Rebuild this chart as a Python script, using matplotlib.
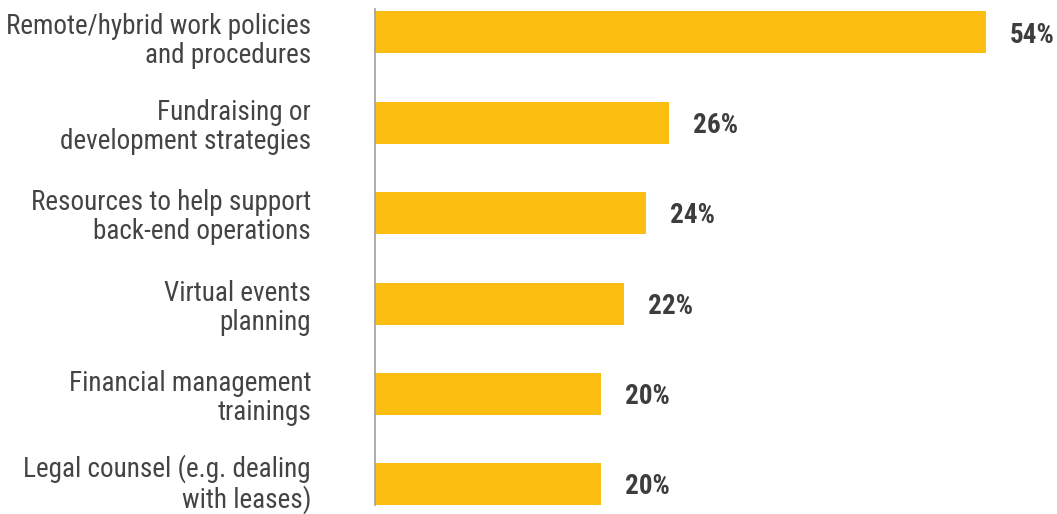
import matplotlib.pyplot as plt
from matplotlib import font_manager
from matplotlib.transforms import ScaledTranslation

categories = [
    "Remote/hybrid work policies\nand procedures",
    "Fundraising or\ndevelopment strategies",
    "Resources to help support\nback-end operations",
    "Virtual events\nplanning",
    "Financial management\ntrainings",
    "Legal counsel (e.g. dealing\nwith leases)",
]
values = [54, 26, 24, 22, 20, 20]

names = {f.name for f in font_manager.fontManager.ttflist}
family = "Roboto Condensed" if "Roboto Condensed" in names else "Roboto"
plt.rcParams["font.family"] = [family, "DejaVu Sans"]

fig = plt.figure(figsize=(10.57, 5.14), dpi=100)
ax = fig.add_axes([375 / 1057, 9 / 514, 1 - 375 / 1057, 496 / 514])

ypos = range(len(values))
ax.barh(ypos, values, height=0.465, color="#FDBE12")
ax.set_xlim(0, 682 / 11.31)
ax.set_ylim(5.23, -0.26)

for y, v in zip(ypos, values):
    ax.text(v + 2.1, y + 0.03, f"{v}%", va="center", ha="left",
            fontsize=19.5, fontweight="bold", color="#3d3d3d")

ax.set_yticks(list(ypos))
ax.set_yticklabels(categories, fontsize=19.5, color="#444444", linespacing=1.1)
ax.tick_params(axis="y", length=0, pad=46)
ax.set_xticks([])

# nudge the first label down and the last one up a little
labels = ax.get_yticklabels()
labels[0].set_transform(labels[0].get_transform() + ScaledTranslation(0, -3 / 72, fig.dpi_scale_trans))
labels[-1].set_transform(labels[-1].get_transform() + ScaledTranslation(0, 3 / 72, fig.dpi_scale_trans))

for side in ["top", "right", "bottom"]:
    ax.spines[side].set_visible(False)
ax.spines["left"].set_color("#a0a0a0")
ax.spines["left"].set_linewidth(1.2)

fig.savefig("out.png", dpi=100)
